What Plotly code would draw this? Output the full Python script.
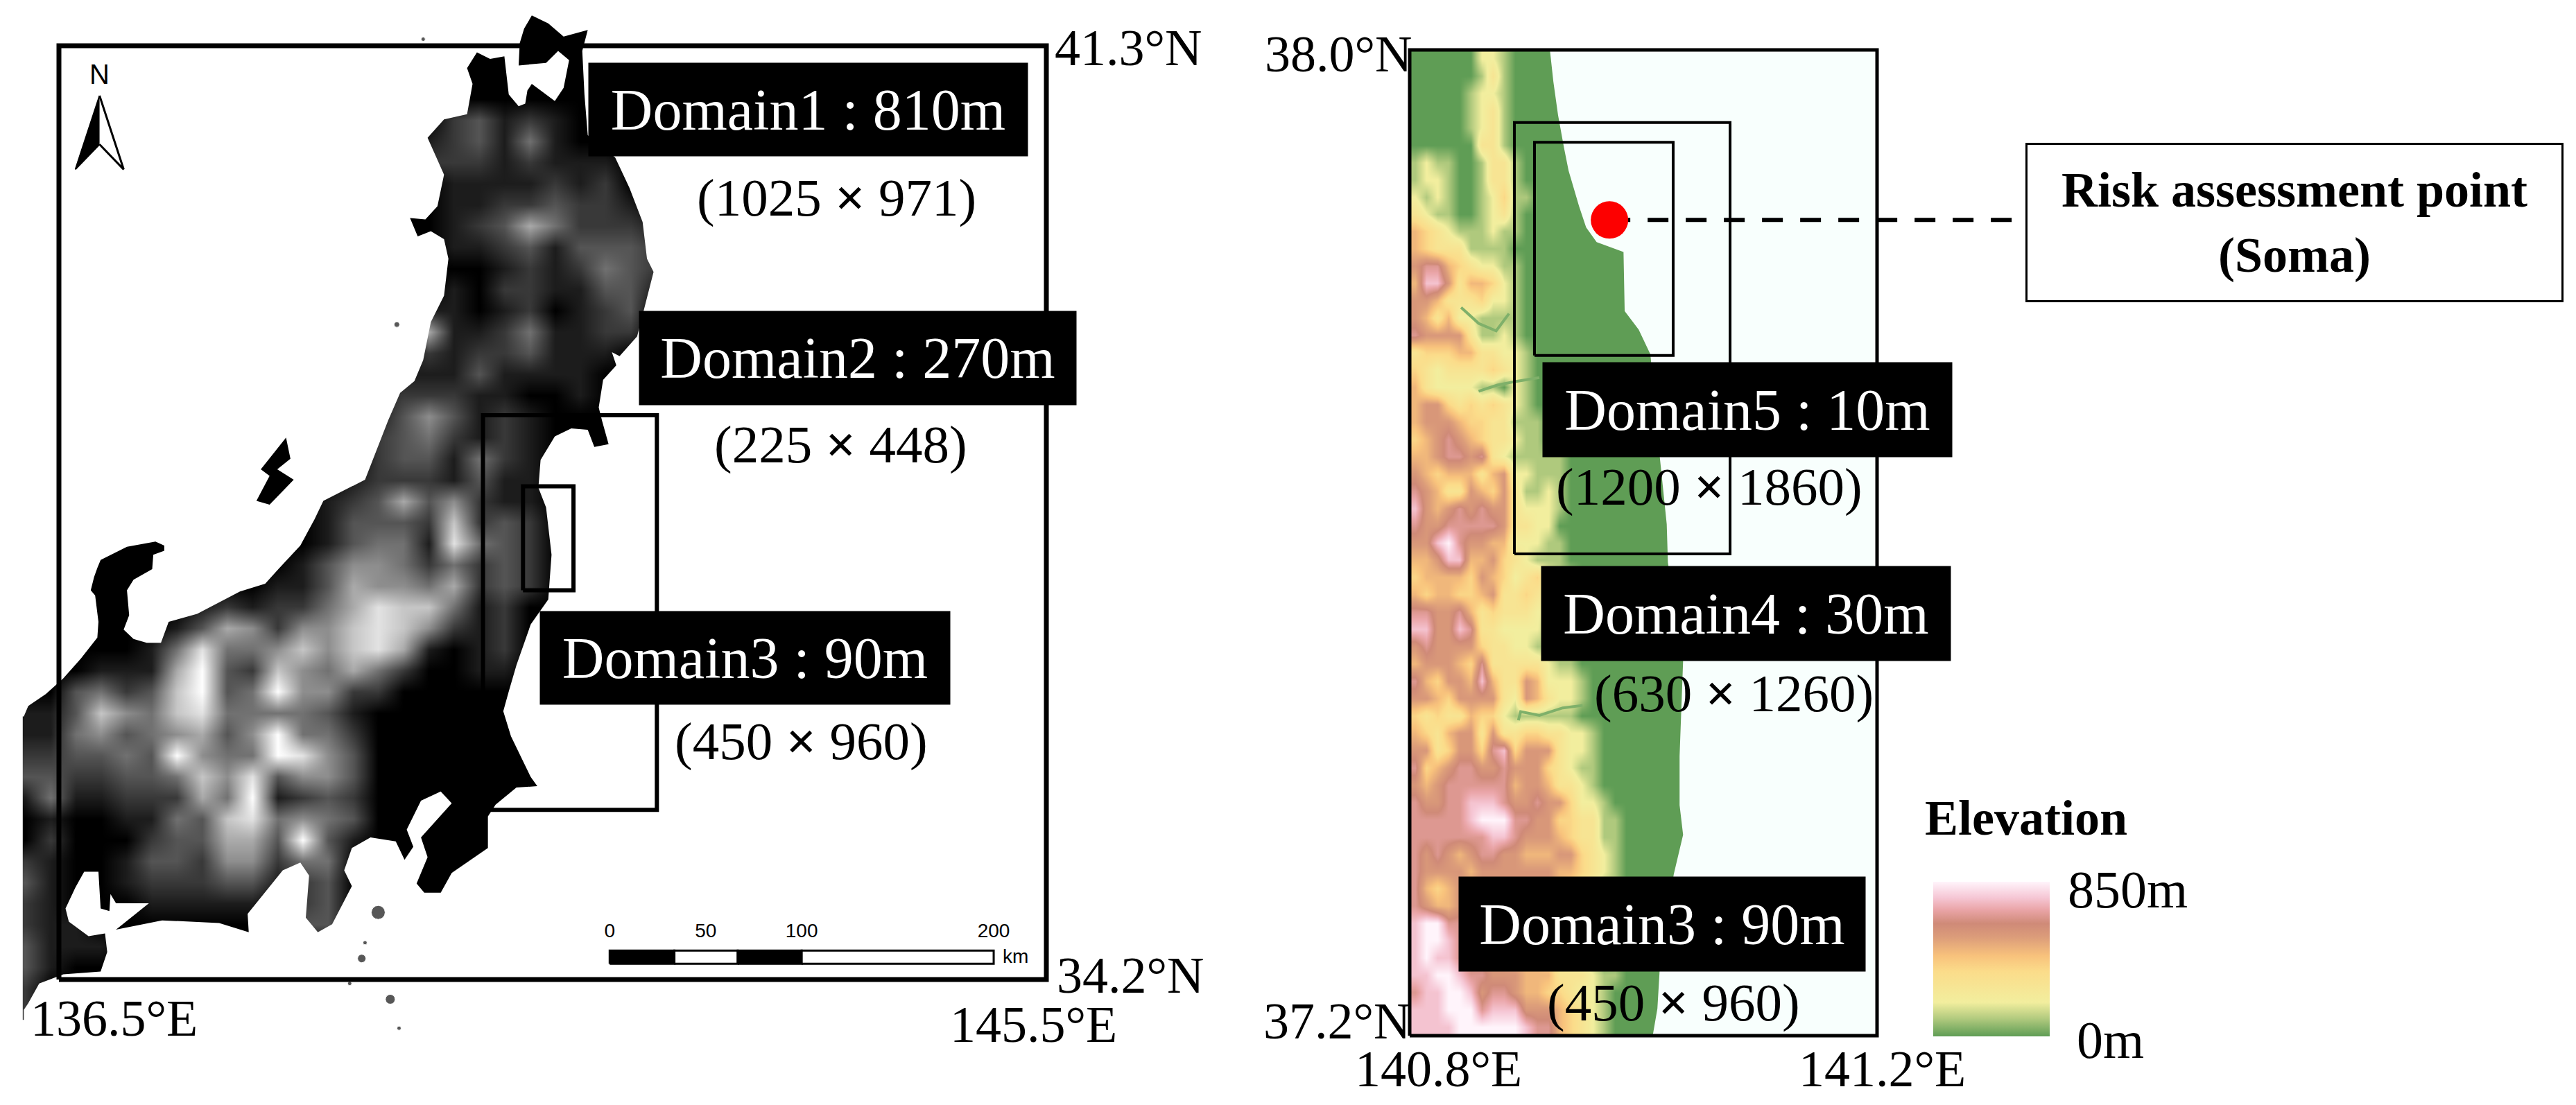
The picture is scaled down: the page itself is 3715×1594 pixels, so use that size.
import plotly.graph_objects as go

W = 3715
H = 1594
SERIF = "Liberation Serif"
SANS = "Liberation Sans"

# grey relief of the large map, 0 = black .. 9 = white, one string per row, north to south
relief_rows = [
    "0", "0", "0", "0", "0",
    "0000000000000000023121",
    "0000000000000000123141",
    "000000000000000022212111",
    "000000000000000001111212",
    "0000000000000000011223221",
    "00000000000000000123642221",
    "00000000000000000112313332",
    "00000000000000000001212432",
    "00000000000000000102211331",
    "0000000000000000110120123",
    "0000000000000001611241122",
    "000000000000000121223111",
    "000000000000000111311110",
    "00000000000000122211001",
    "00000000000000135312100",
    "0000000000000023421210",
    "000000000000002331421",
    "000000000000012221311",
    "000000000000123635211",
    "000000000000133327232",
    "000000000000134418432",
    "000000000001355424232",
    "000000000011365546232",
    "00000001212246877412",
    "00000013652557875212",
    "00000148445757861012",
    "00011169327546420011",
    "0034237934955220",
    "113754784444310",
    "11453456359442",
    "22334395449853",
    "332233475835530",
    "14112226491232",
    "01001143784543",
    "02000233663931",
    "2100133255244",
    "3100122233123",
    "2100011111023",
    "2110000000033",
    "3111",
    "31",
    "2",
    "2",
]

# Honshu coast of the large map, from the left edge round the north to the bottom left
coast_lon = [136.18, 136.22, 136.38, 136.54, 136.70, 136.85, 136.86, 136.83, 136.79, 136.82, 136.85, 136.88,
             137.12, 137.38, 137.46, 137.46, 137.36, 137.35, 137.18, 137.12, 137.14, 137.09, 137.18, 137.30,
             137.43, 137.50, 137.76, 138.15, 138.38, 138.50, 138.70, 138.83, 138.91, 139.29, 139.50, 139.61,
             139.74, 139.82, 139.89, 140.01, 140.05, 140.01, 139.89, 139.77, 139.70, 139.84, 139.95, 140.01,
             139.93, 139.86, 140.01, 140.22, 140.27, 140.22, 140.31, 140.43, 140.56, 140.60, 140.69, 140.75,
             140.77, 140.81, 141.02, 141.10, 141.15, 141.05, 140.94, 140.69, 140.70, 140.74, 140.81, 140.96,
             141.10, 141.32, 141.27, 141.29, 141.32, 141.57, 141.70, 141.82, 141.86, 141.92, 141.84, 141.77,
             141.61, 141.54, 141.58, 141.46, 141.42, 141.45, 141.51, 141.38, 141.32, 141.17, 141.02, 140.89,
             140.87, 140.94, 140.99, 140.96, 140.80, 140.67, 140.60, 140.55, 140.62, 140.80, 140.86, 140.67,
             140.48, 140.41, 140.41, 140.08, 139.98, 139.83, 139.76, 139.86, 139.80, 140.08, 139.98, 139.80,
             139.67, 139.73, 139.65, 139.57, 139.34, 139.17, 139.10, 139.17, 138.99, 138.86, 138.75, 138.78,
             138.70, 138.54, 138.22, 138.23, 137.96, 137.44, 137.02, 137.32, 137.02, 136.97, 136.96, 136.88,
             136.86, 136.73, 136.65, 136.56, 136.59, 136.77, 136.92, 136.94, 136.88, 136.54, 136.32, 136.22,
             136.18]
coast_lat = [36.20, 36.28, 36.37, 36.49, 36.64, 36.80, 36.92, 37.12, 37.16, 37.26, 37.33, 37.39,
             37.49, 37.53, 37.50, 37.46, 37.43, 37.32, 37.24, 37.16, 36.97, 36.86, 36.79, 36.76,
             36.76, 36.92, 36.98, 37.15, 37.21, 37.32, 37.50, 37.70, 37.84, 38.00, 38.45, 38.66,
             38.75, 38.91, 39.20, 39.40, 39.68, 39.83, 39.89, 39.85, 39.99, 39.98, 40.08, 40.32,
             40.47, 40.60, 40.74, 40.78, 41.01, 41.13, 41.25, 41.20, 41.22, 40.93, 40.84, 40.86,
             40.96, 41.01, 40.88, 40.98, 41.19, 41.26, 41.17, 41.15, 41.32, 41.43, 41.53, 41.47,
             41.37, 41.42, 41.26, 40.93, 40.62, 40.45, 40.22, 39.96, 39.68, 39.58, 39.32, 39.09,
             38.94, 38.97, 38.87, 38.76, 38.55, 38.45, 38.27, 38.25, 38.38, 38.39, 38.33, 38.15,
             37.94, 37.79, 37.43, 37.09, 36.90, 36.59, 36.39, 36.24, 36.05, 35.74, 35.67, 35.66,
             35.53, 35.44, 35.20, 35.01, 34.86, 34.86, 34.93, 35.13, 35.28, 35.54, 35.63, 35.56,
             35.34, 35.21, 35.11, 35.25, 35.28, 35.20, 35.03, 34.91, 34.62, 34.56, 34.67, 34.99,
             35.09, 35.03, 34.70, 34.56, 34.63, 34.65, 34.58, 34.78, 34.78, 34.85, 34.72, 34.74,
             35.02, 35.02, 34.90, 34.74, 34.64, 34.53, 34.55, 34.41, 34.26, 34.24, 34.17, 34.02,
             33.97]
sea_edge_lon = [136.18, 142.3, 142.3, 135.96, 135.96, 136.17, 136.17]
sea_edge_lat = [33.76, 33.76, 41.65, 41.65, 33.76, 33.76, 36.20]

sado_lon = [138.57, 138.61, 138.49, 138.64, 138.42, 138.30, 138.42, 138.34]
sado_lat = [38.32, 38.16, 38.08, 38.00, 37.81, 37.84, 38.03, 38.08]
islet_lon = [139.41, 139.26, 139.29, 139.52, 139.60, 139.15, 139.82, 139.58]
islet_lat = [34.71, 34.36, 34.48, 34.05, 33.83, 34.17, 41.35, 39.18]
islet_size = [20, 12, 6, 14, 6, 6, 6, 8]

# nested domains, lon/lat corners
domain2_lon = [140.365, 141.95]
domain2_lat = [35.49, 38.49]
domain3_lon = [140.73, 141.19]
domain3_lat = [37.16, 37.95]
domain4_lon = [140.8896, 141.0742]
domain4_lat = [37.591, 37.941]
domain5_lon = [140.9068, 141.0255]
domain5_lat = [37.752, 37.925]
soma_lon = 140.971
soma_lat = 37.862
risk_box_lon = 141.328

# north arrow and scale bar
arrow_lon = [136.87, 136.65, 136.87, 137.09]
arrow_lat = [40.92, 40.36, 40.55, 40.36]
bar_km = [0, 33.7, 66.7, 100, 200]
bar_labels = [0, 50, 100, 200]
bar_lon0 = 141.52
bar_deg_per_km = 0.0175

# colour relief of the small map, 0 = green .. 9 = white, trailing sea cells left out
color_rows = [
    "000000221",
    "000000131",
    "000001221",
    "000001231",
    "000001231",
    "000000331",
    "1211001331",
    "1221001331",
    "21210012411",
    "3211001231",
    "5432111211",
    "5433311110",
    "6775432211",
    "5886355421",
    "6653334221",
    "6535221111",
    "7666631121",
    "34445533221",
    "43233334321",
    "532222110210",
    "56643434321",
    "566654433111",
    "456765433211",
    "55677673211111",
    "65455535622111",
    "76533654631121",
    "86567676632221",
    "76677777633220",
    "66897665522211",
    "55688556432111",
    "455554654234211",
    "5455445633432110",
    "776675343332211",
    "886687332222111",
    "6766664332211110",
    "5666547333332110",
    "75466585336522210",
    "66546666326532210",
    "4343354421111110",
    "543566363344332210",
    "663466478466632210",
    "745677667666432110",
    "656777777566533210",
    "7667788876676642210",
    "7777789997766443311",
    "7777777887666543311",
    "7676567766555664321",
    "7666656666666554321",
    "7545666666666543211",
    "7655666666665432110",
    "8997766666655432110",
    "8998766665554321100",
    "8988766665554321100",
    "8899877666555333211",
    "788998677655443221",
    "8889997888666543210",
    "8888999999877543210",
]
small_coast_lon = [140.920, 140.923, 140.927, 140.932, 140.936, 140.945, 140.951, 140.960, 140.983, 140.984, 140.996,
                   141.006, 141.014, 141.020, 141.021, 141.034, 141.031, 141.031, 141.034, 141.026, 141.014, 141.012,
                   141.008, 141.2, 141.2]
small_coast_lat = [38.0, 37.974, 37.947, 37.921, 37.902, 37.873, 37.856, 37.844, 37.836, 37.788, 37.773,
                   37.753, 37.670, 37.615, 37.584, 37.504, 37.427, 37.387, 37.363, 37.331, 37.254, 37.222,
                   37.2, 37.2, 38.0]
valley_lons = [[140.893, 140.895, 140.911, 140.931, 140.948], [140.844, 140.859, 140.874, 140.885],
               [140.859, 140.875, 140.891, 140.911]]
valley_lats = [[37.456, 37.463, 37.460, 37.466, 37.468], [37.791, 37.778, 37.772, 37.786],
               [37.723, 37.728, 37.731, 37.734]]

grey_colors = [[0, "#000000"], [1, "#ffffff"]]
elevation_colors = [[0, "#5f9d55"], [0.12, "#b5cc80"], [0.22, "#f2ee9e"], [0.42, "#fbdc8a"], [0.52, "#f8c27c"],
                    [0.64, "#dc9d7a"], [0.73, "#cf8a78"], [0.82, "#eaa5a8"], [0.90, "#f6c8d6"], [1, "#fff4fb"]]

box_labels = ["Domain1 : 810m", "Domain2 : 270m", "Domain3 : 90m", "Domain5 : 10m", "Domain4 : 30m", "Domain3 : 90m"]
box_left = [848, 921, 778, 2224, 2222, 2103]
box_top = [90, 448, 881, 522, 816, 1264]
box_width = [633, 630, 591, 590, 590, 586]
box_height = [134, 135, 134, 136, 136, 136]

size_labels = ["(1025 <b>×</b> 971)", "(225 <b>×</b> 448)", "(450 <b>×</b> 960)",
               "(1200 <b>×</b> 1860)", "(630 <b>×</b> 1260)", "(450 <b>×</b> 960)"]
size_x = [1206, 1212, 1155, 2465, 2500, 2413]
size_y = [285, 641, 1069, 702, 1000, 1446]

corner_labels = ["41.3°N", "34.2°N", "136.5°E", "145.5°E", "38.0°N", "37.2°N", "140.8°E", "141.2°E"]
corner_x = [1627, 1630, 164, 1490, 1930, 1928, 2074, 2714]
corner_y = [69, 1407, 1469, 1478, 78, 1473, 1542, 1542]


def axis_range(px0, px1, val0, val1, start, end):
    # axis limits so that val0/val1 fall on pixels px0/px1
    per_px = (val1 - val0) / (px1 - px0)
    return [val0 + (start - px0) * per_px, val0 + (end - px0) * per_px]


def box_trace(lons, lats, width, xaxis, yaxis):
    return go.Scatter(x=[lons[0], lons[1], lons[1], lons[0], lons[0]],
                      y=[lats[0], lats[0], lats[1], lats[1], lats[0]],
                      mode="lines", line=dict(color="black", width=width),
                      xaxis=xaxis, yaxis=yaxis, hoverinfo="skip")


def page_text(text, x, y, family, size):
    return dict(text=text, x=x / W, y=1 - y / H, xref="paper", yref="paper", xanchor="center", yanchor="middle",
                showarrow=False, font=dict(family=family, size=size, color="black"))


# rows flipped so they run south to north, the way the y axis grows
relief = [[int(c) for c in row.ljust(26, "0")] for row in relief_rows[::-1]]
elevation = [[int(c) for c in row.ljust(26, "0")] for row in color_rows[::-1]]

fig = go.Figure()

# large map
fig.add_trace(go.Heatmap(z=relief, x0=136.194, dx=0.2298, y0=33.973, dy=0.161, zmin=0, zmax=9, zsmooth="best",
                         colorscale=grey_colors, showscale=False, xaxis="x", yaxis="y"))
fig.add_trace(go.Scatter(x=coast_lon + sea_edge_lon, y=coast_lat + sea_edge_lat, mode="none", fill="toself",
                         fillcolor="white", xaxis="x", yaxis="y"))
fig.add_trace(go.Scatter(x=sado_lon, y=sado_lat, mode="none", fill="toself", fillcolor="black", xaxis="x", yaxis="y"))
fig.add_trace(go.Scatter(x=islet_lon, y=islet_lat, mode="markers", marker=dict(color="#111111", size=islet_size),
                         xaxis="x", yaxis="y"))
fig.add_trace(box_trace([136.5, 145.5], [34.2, 41.3], 7, "x", "y"))
fig.add_trace(box_trace(domain2_lon, domain2_lat, 6, "x", "y"))
fig.add_trace(box_trace(domain3_lon, domain3_lat, 6, "x", "y"))

fig.add_trace(go.Scatter(x=arrow_lon[:3], y=arrow_lat[:3], mode="lines", fill="toself", fillcolor="black",
                         line=dict(color="black", width=2), xaxis="x", yaxis="y"))
fig.add_trace(go.Scatter(x=[arrow_lon[0], arrow_lon[3], arrow_lon[2]], y=[arrow_lat[0], arrow_lat[3], arrow_lat[2]],
                         mode="lines", line=dict(color="black", width=3), xaxis="x", yaxis="y"))

for i in range(len(bar_km) - 1):
    x0 = bar_lon0 + bar_km[i] * bar_deg_per_km
    x1 = bar_lon0 + bar_km[i + 1] * bar_deg_per_km
    fig.add_trace(go.Scatter(x=[x0, x1, x1, x0, x0], y=[34.32, 34.32, 34.42, 34.42, 34.32], mode="lines", fill="toself",
                             fillcolor="black" if i % 2 == 0 else "white", line=dict(color="black", width=3),
                             xaxis="x", yaxis="y"))
fig.add_trace(go.Scatter(x=[bar_lon0 + k * bar_deg_per_km for k in bar_labels], y=[34.56] * 4, mode="text",
                         text=[str(v) for v in bar_labels], textfont=dict(family=SANS, size=28, color="black"),
                         xaxis="x", yaxis="y"))

# small map
fig.add_trace(go.Heatmap(z=elevation, x0=140.80475, dx=0.009496, y0=37.20702, dy=0.014035, zmin=0, zmax=9,
                         zsmooth="best", colorscale=elevation_colors, xaxis="x2", yaxis="y2",
                         colorbar=dict(x=2788 / W, xanchor="left", xpad=0, y=1 - 1383.5 / H, yanchor="middle", ypad=0,
                                       len=223, lenmode="pixels", thickness=168, thicknessmode="pixels",
                                       outlinewidth=0, ticks="", showticklabels=False)))
for lons, lats in zip(valley_lons, valley_lats):
    fig.add_trace(go.Scatter(x=lons, y=lats, mode="lines", line=dict(color="#7fb06a", width=4), xaxis="x2", yaxis="y2"))
fig.add_trace(go.Scatter(x=small_coast_lon, y=small_coast_lat, mode="none", fill="toself", fillcolor="#f8fffd",
                         xaxis="x2", yaxis="y2"))
fig.add_trace(box_trace([140.8, 141.2], [37.2, 38.0], 5, "x2", "y2"))
fig.add_trace(box_trace(domain4_lon, domain4_lat, 4, "x2", "y2"))
fig.add_trace(box_trace(domain5_lon, domain5_lat, 4, "x2", "y2"))
fig.add_trace(go.Scatter(x=[soma_lon, risk_box_lon], y=[soma_lat, soma_lat], mode="lines",
                         line=dict(color="black", width=6, dash="30px,25px"), xaxis="x2", yaxis="y2"))
fig.add_trace(go.Scatter(x=[soma_lon], y=[soma_lat], mode="markers", marker=dict(color="#fd0000", size=54),
                         xaxis="x2", yaxis="y2"))

annotations = []
for text, left, top, bw, bh in zip(box_labels, box_left, box_top, box_width, box_height):
    annotations.append(dict(text=text, x=left / W, y=1 - top / H, xref="paper", yref="paper", xanchor="left",
                            yanchor="top", width=bw, height=bh, bgcolor="black", showarrow=False, borderpad=0,
                            font=dict(family=SERIF, size=84, color="white")))
for text, x, y in zip(size_labels, size_x, size_y):
    annotations.append(page_text(text, x, y, SERIF, 77))
for text, x, y in zip(corner_labels, corner_x, corner_y):
    annotations.append(page_text(text, x, y, SERIF, 74))

annotations.append(page_text("N", 143, 107, SANS, 40))
annotations.append(page_text("km", 1464, 1379, SANS, 28))
annotations.append(page_text("<b>Elevation</b>", 2922, 1180, SERIF, 72))
annotations.append(page_text("850m", 3068, 1283, SERIF, 76))
annotations.append(page_text("0m", 3043, 1500, SERIF, 76))
risk_box = page_text("<b>Risk assessment point</b><br><b>(Soma)</b>", 3309, 321, SERIF, 72)
risk_box.update(width=770, height=224, bgcolor="white", bordercolor="black", borderwidth=3, borderpad=0)
annotations.append(risk_box)

hidden = dict(visible=False, showgrid=False, zeroline=False)
fig.update_layout(
    width=W, height=H, showlegend=False, plot_bgcolor="white", paper_bgcolor="white",
    margin=dict(l=0, r=0, t=0, b=0), annotations=annotations,
    xaxis=dict(domain=[0, 1858 / W], range=axis_range(85, 1509, 136.5, 145.5, 0, 1858), **hidden),
    yaxis=dict(domain=[0, 1], range=axis_range(66, 1413, 41.3, 34.2, H, 0), **hidden),
    xaxis2=dict(domain=[1858 / W, 1], anchor="y2", range=axis_range(2033, 2707, 140.8, 141.2, 1858, W), **hidden),
    yaxis2=dict(domain=[0, 1], anchor="x2", range=axis_range(72, 1494, 38.0, 37.2, H, 0), **hidden),
)

fig.write_html("out.html", config={"displayModeBar": False}, post_script="document.body.style.margin='0';")
